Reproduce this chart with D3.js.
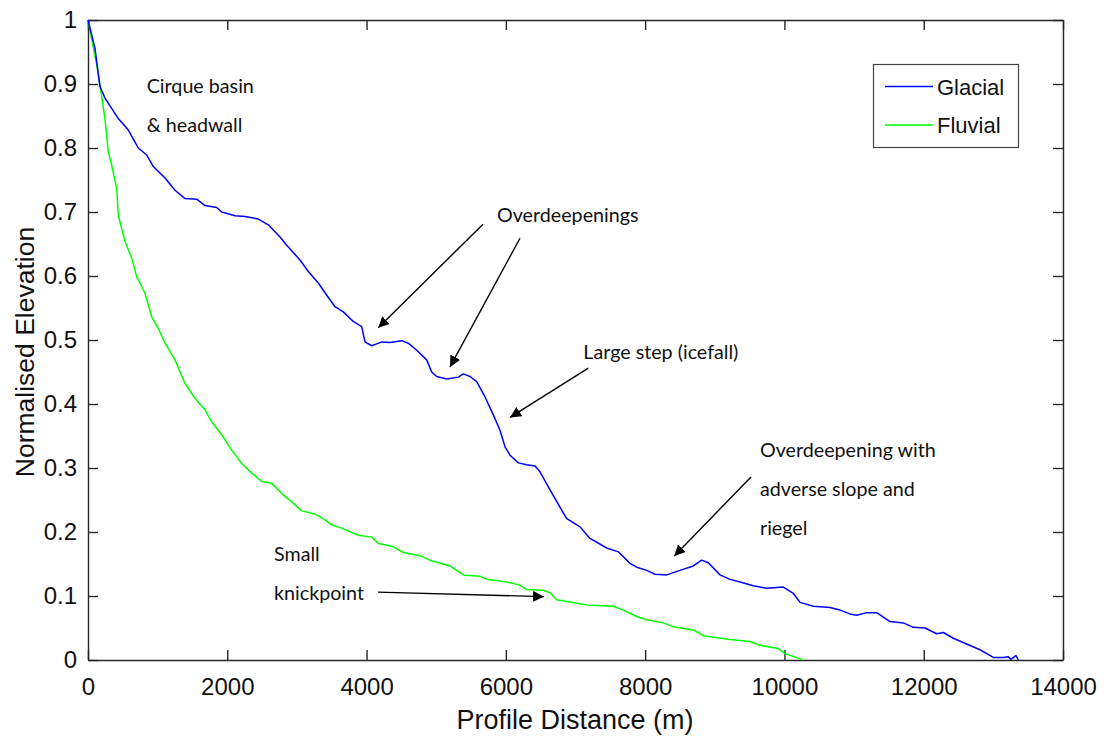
<!DOCTYPE html>
<html>
<head>
<meta charset="utf-8">
<script src="https://cdn.jsdelivr.net/npm/d3@7/dist/d3.min.js"></script>
<style>
  html, body { margin: 0; padding: 0; background: #fff; }
  svg { display: block; }
</style>
</head>
<body>
<svg id="chart" width="1109" height="738"></svg>
<script>
// Long profiles: distance along the valley (m) and normalised elevation
const glacialDist = [0, 100, 172, 244, 435, 579, 722, 843, 938, 1106, 1249, 1393, 1561, 1680, 1848, 1920,
  2111, 2254, 2445, 2589, 2757, 2853, 3044, 3163, 3307, 3428, 3547, 3666, 3809, 3930, 3977, 4074, 4145,
  4217, 4336, 4504, 4599, 4720, 4863, 4935, 5007, 5151, 5317, 5389, 5485, 5581, 5701, 5820, 5916, 5988,
  6060, 6179, 6299, 6419, 6490, 6634, 6802, 6874, 7065, 7208, 7448, 7615, 7783, 7879, 8022, 8142, 8310,
  8500, 8692, 8812, 8907, 9075, 9218, 9362, 9553, 9745, 9984, 10128, 10224, 10415, 10654, 10798, 10941,
  11038, 11181, 11325, 11516, 11707, 11851, 12019, 12187, 12282, 12425, 12617, 12808, 13000, 13143,
  13215, 13249, 13325, 13358];
const glacialElev = [1.000, 0.956, 0.896, 0.878, 0.846, 0.828, 0.800, 0.789, 0.771, 0.753, 0.734, 0.721,
  0.720, 0.710, 0.707, 0.700, 0.694, 0.693, 0.689, 0.680, 0.661, 0.648, 0.625, 0.607, 0.589, 0.570, 0.552,
  0.544, 0.529, 0.521, 0.497, 0.491, 0.494, 0.497, 0.496, 0.499, 0.495, 0.484, 0.469, 0.450, 0.443, 0.439,
  0.442, 0.447, 0.443, 0.435, 0.411, 0.383, 0.359, 0.333, 0.320, 0.308, 0.305, 0.303, 0.294, 0.266, 0.234,
  0.221, 0.208, 0.190, 0.175, 0.169, 0.151, 0.145, 0.140, 0.134, 0.133, 0.140, 0.147, 0.156, 0.152, 0.133,
  0.126, 0.122, 0.116, 0.112, 0.114, 0.104, 0.090, 0.084, 0.082, 0.078, 0.072, 0.070, 0.074, 0.074, 0.060,
  0.058, 0.051, 0.050, 0.041, 0.043, 0.034, 0.025, 0.016, 0.004, 0.004, 0.005, 0.001, 0.007, 0.000];

const fluvialDist = [0, 125, 172, 244, 291, 340, 412, 435, 531, 627, 699, 818, 915, 1009, 1106, 1249, 1393,
  1536, 1680, 1776, 1920, 2063, 2207, 2351, 2494, 2638, 2781, 2925, 3069, 3260, 3403, 3499, 3643, 3881,
  4074, 4168, 4265, 4384, 4527, 4767, 4911, 5198, 5389, 5629, 5725, 6012, 6203, 6299, 6538, 6634, 6730,
  6969, 7161, 7543, 7687, 7879, 8022, 8261, 8404, 8692, 8835, 9218, 9506, 9649, 9912, 10008, 10248, 10262];
const fluvialElev = [1.000, 0.930, 0.898, 0.846, 0.794, 0.773, 0.737, 0.695, 0.654, 0.628, 0.599, 0.573,
  0.536, 0.518, 0.495, 0.469, 0.432, 0.409, 0.391, 0.372, 0.352, 0.328, 0.307, 0.292, 0.279, 0.276, 0.260,
  0.247, 0.233, 0.228, 0.219, 0.211, 0.206, 0.195, 0.192, 0.182, 0.180, 0.177, 0.168, 0.163, 0.156, 0.147,
  0.133, 0.131, 0.126, 0.122, 0.117, 0.110, 0.109, 0.105, 0.094, 0.090, 0.086, 0.084, 0.078, 0.068, 0.063,
  0.058, 0.052, 0.047, 0.038, 0.032, 0.029, 0.023, 0.018, 0.010, 0.001, 0.000];

const seriesNames = ["Glacial", "Fluvial"];
const seriesColors = ["#0000ff", "#00ff00"];

const xTicks = [0, 2000, 4000, 6000, 8000, 10000, 12000, 14000];
const yTicks = [0, 0.1, 0.2, 0.3, 0.4, 0.5, 0.6, 0.7, 0.8, 0.9, 1];
const yTickLabels = ["0", "0.1", "0.2", "0.3", "0.4", "0.5", "0.6", "0.7", "0.8", "0.9", "1"];

// Annotation text: [distance, elevation of first baseline, lines]
const noteText = [
  [843, 0.886, ["Cirque basin", "& headwall"]],
  [5873, 0.684, ["Overdeepenings"]],
  [7112, 0.470, ["Large step (icefall)"]],
  [9649, 0.317, ["Overdeepening with", "adverse slope and", "riegel"]],
  [2671, 0.155, ["Small", "knickpoint"]]
];
// Arrows: [fromDist, fromElev, toDist, toElev]
const noteArrows = [
  [5672, 0.681, 4168, 0.519],
  [6203, 0.659, 5198, 0.458],
  [7184, 0.456, 6060, 0.379],
  [9520, 0.286, 8419, 0.1625],
  [4164, 0.106, 6548, 0.099]
];

const svg = d3.select("#chart");
const plotL = 88, plotR = 1063, plotT = 20, plotB = 660;
const x = d3.scaleLinear().domain([0, 14000]).range([plotL, plotR]);
const y = d3.scaleLinear().domain([0, 1]).range([plotB, plotT]);

const tickFont = "Liberation Sans, Arial, sans-serif";
const noteFont = "Lato, 'Open Sans', sans-serif";

// Axes with inward ticks on all four sides
const axB = svg.append("g").attr("transform", `translate(0,${plotB})`)
  .call(d3.axisBottom(x).tickValues(xTicks).tickFormat(d3.format("d")).tickSizeInner(-10).tickSizeOuter(0).tickPadding(18));
const axT = svg.append("g").attr("transform", `translate(0,${plotT})`)
  .call(d3.axisTop(x).tickValues(xTicks).tickFormat("").tickSizeInner(-10).tickSizeOuter(0));
const axL = svg.append("g").attr("transform", `translate(${plotL},0)`)
  .call(d3.axisLeft(y).tickValues(yTicks).tickFormat((d, i) => yTickLabels[i]).tickSizeInner(-10).tickSizeOuter(0).tickPadding(11));
const axR = svg.append("g").attr("transform", `translate(${plotR},0)`)
  .call(d3.axisRight(y).tickValues(yTicks).tickFormat("").tickSizeInner(-10).tickSizeOuter(0));

[axB, axT, axL, axR].forEach(g => {
  g.select(".domain").attr("stroke", "#262626").attr("stroke-width", 1.4);
  g.selectAll(".tick line").attr("stroke", "#262626").attr("stroke-width", 1.4);
  g.selectAll(".tick text").attr("font-family", tickFont).attr("font-size", 24).attr("fill", "#111");
});

// Axis titles
svg.append("text")
  .attr("x", 575).attr("y", 729)
  .attr("text-anchor", "middle")
  .attr("font-family", tickFont).attr("font-size", 27).attr("fill", "#111")
  .text("Profile Distance (m)");
svg.append("text")
  .attr("transform", "translate(34,352) rotate(-90)")
  .attr("text-anchor", "middle")
  .attr("font-family", tickFont).attr("font-size", 26.5).attr("fill", "#111")
  .text("Normalised Elevation");

// Profile lines
const line = d3.line().x(d => x(d[0])).y(d => y(d[1]));
const glacial = glacialDist.map((d, i) => [d, glacialElev[i]]);
const fluvial = fluvialDist.map((d, i) => [d, fluvialElev[i]]);
const plot = svg.append("g");
plot.append("path").datum(fluvial).attr("d", line)
  .attr("fill", "none").attr("stroke", seriesColors[1]).attr("stroke-width", 1.5).attr("stroke-linejoin", "round");
plot.append("path").datum(glacial).attr("d", line)
  .attr("fill", "none").attr("stroke", seriesColors[0]).attr("stroke-width", 1.5).attr("stroke-linejoin", "round");

// Annotation arrows
svg.append("defs").append("marker")
  .attr("id", "head").attr("viewBox", "0 0 10 10")
  .attr("refX", 10).attr("refY", 5)
  .attr("markerWidth", 11).attr("markerHeight", 11)
  .attr("markerUnits", "userSpaceOnUse")
  .attr("orient", "auto")
  .append("path").attr("d", "M0,0L10,5L0,10Z").attr("fill", "#000");
svg.append("g").selectAll("line").data(noteArrows).join("line")
  .attr("x1", d => x(d[0])).attr("y1", d => y(d[1]))
  .attr("x2", d => x(d[2])).attr("y2", d => y(d[3]))
  .attr("stroke", "#000").attr("stroke-width", 1.4)
  .attr("marker-end", "url(#head)");

// Annotation text
const notes = svg.append("g").attr("font-family", noteFont).attr("font-size", 19.7).attr("fill", "#111");
noteText.forEach(n => {
  n[2].forEach((t, i) => {
    notes.append("text")
      .attr("x", x(n[0])).attr("y", y(n[1]) + i * 39)
      .text(t);
  });
});

// Legend
const lg = svg.append("g");
lg.append("rect").attr("x", 873.5).attr("y", 64.5).attr("width", 145).attr("height", 83)
  .attr("fill", "#fff").attr("stroke", "#444").attr("stroke-width", 1.2);
seriesNames.forEach((name, i) => {
  const cy = 86.5 + i * 38.5;
  lg.append("line").attr("x1", 885).attr("x2", 933).attr("y1", cy).attr("y2", cy)
    .attr("stroke", seriesColors[i]).attr("stroke-width", 1.5);
  lg.append("text").attr("x", 937).attr("y", cy + 8)
    .attr("font-family", tickFont).attr("font-size", 22).attr("fill", "#111")
    .text(name);
});
</script>
</body>
</html>
